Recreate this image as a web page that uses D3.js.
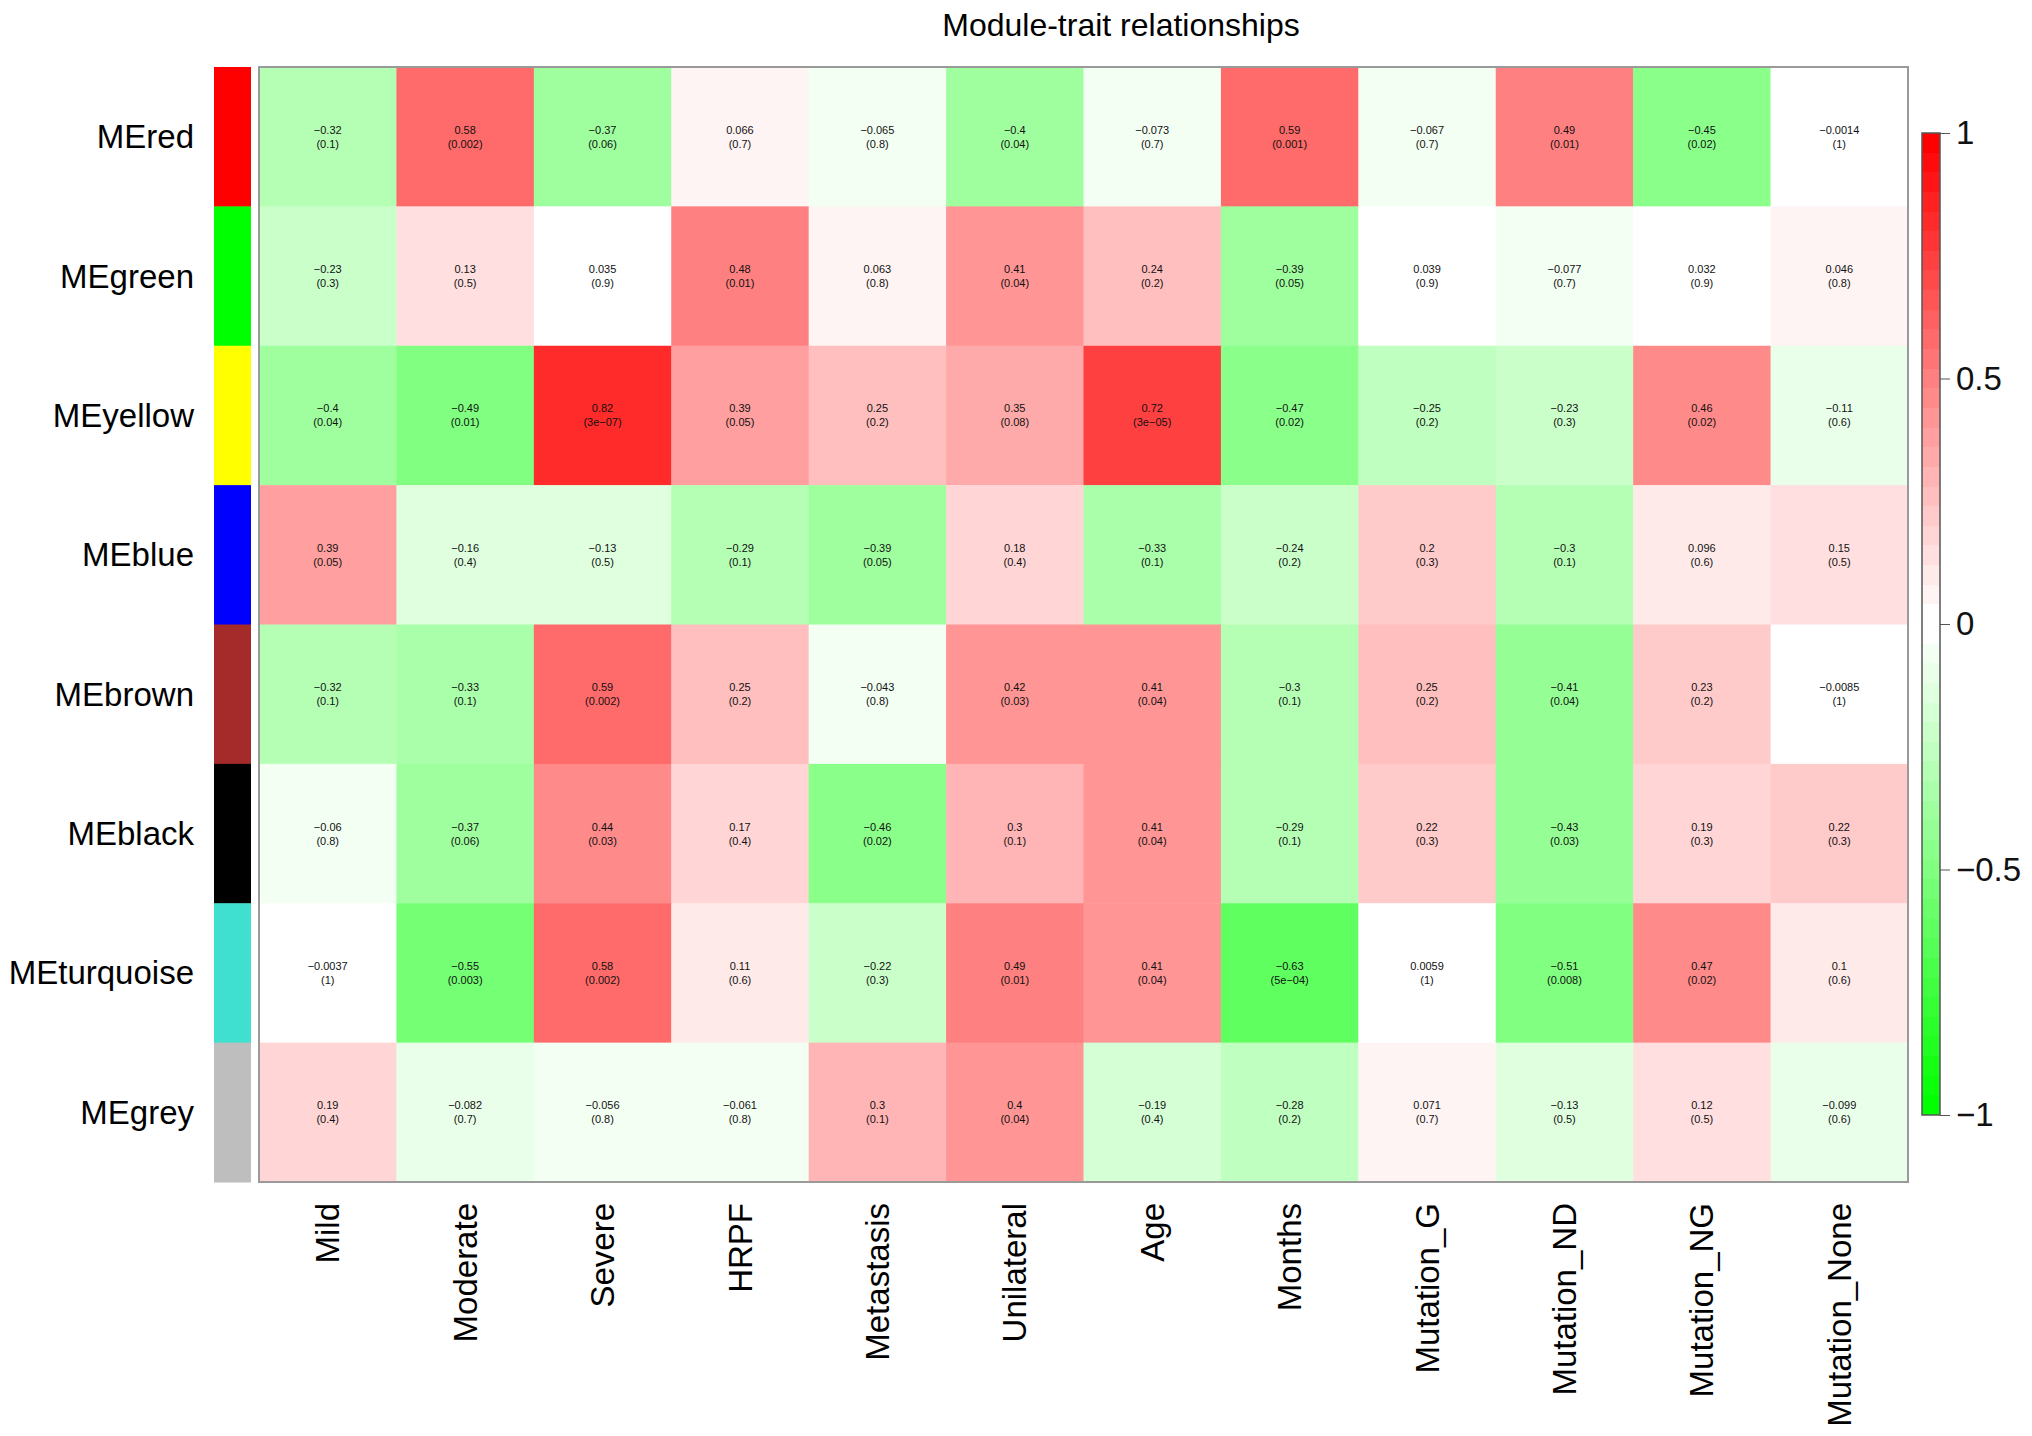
<!DOCTYPE html>
<html>
<head>
<meta charset="utf-8">
<script src="https://d3js.org/d3.v7.min.js"></script>
<style>
  body { margin: 0; background: #fff; }
  svg text { font-family: "Liberation Sans", Arial, Helvetica, sans-serif; }
</style>
</head>
<body>
<div class="d3"></div>
<script>
'use strict';

// modules (rows) and traits (columns)
const modules = ["MEred", "MEgreen", "MEyellow", "MEblue", "MEbrown", "MEblack", "MEturquoise", "MEgrey"];
const moduleColors = ["#FF0000", "#00FF00", "#FFFF00", "#0000FF", "#A52A2A", "#000000", "#40E0D0", "#BEBEBE"];
const traits = ["Mild", "Moderate", "Severe", "HRPF", "Metastasis", "Unilateral", "Age", "Months",
                "Mutation_G", "Mutation_ND", "Mutation_NG", "Mutation_None"];

// correlation per module, one array per row
const corRed       = [-0.32, 0.58, -0.37, 0.066, -0.065, -0.4, -0.073, 0.59, -0.067, 0.49, -0.45, -0.0014];
const corGreen     = [-0.23, 0.13, 0.035, 0.48, 0.063, 0.41, 0.24, -0.39, 0.039, -0.077, 0.032, 0.046];
const corYellow    = [-0.4, -0.49, 0.82, 0.39, 0.25, 0.35, 0.72, -0.47, -0.25, -0.23, 0.46, -0.11];
const corBlue      = [0.39, -0.16, -0.13, -0.29, -0.39, 0.18, -0.33, -0.24, 0.2, -0.3, 0.096, 0.15];
const corBrown     = [-0.32, -0.33, 0.59, 0.25, -0.043, 0.42, 0.41, -0.3, 0.25, -0.41, 0.23, -0.0085];
const corBlack     = [-0.06, -0.37, 0.44, 0.17, -0.46, 0.3, 0.41, -0.29, 0.22, -0.43, 0.19, 0.22];
const corTurquoise = [-0.0037, -0.55, 0.58, 0.11, -0.22, 0.49, 0.41, -0.63, 0.0059, -0.51, 0.47, 0.1];
const corGrey      = [0.19, -0.082, -0.056, -0.061, 0.3, 0.4, -0.19, -0.28, 0.071, -0.13, 0.12, -0.099];

// p values, kept as the printed strings
const pRed       = ["0.1", "0.002", "0.06", "0.7", "0.8", "0.04", "0.7", "0.001", "0.7", "0.01", "0.02", "1"];
const pGreen     = ["0.3", "0.5", "0.9", "0.01", "0.8", "0.04", "0.2", "0.05", "0.9", "0.7", "0.9", "0.8"];
const pYellow    = ["0.04", "0.01", "3e-07", "0.05", "0.2", "0.08", "3e-05", "0.02", "0.2", "0.3", "0.02", "0.6"];
const pBlue      = ["0.05", "0.4", "0.5", "0.1", "0.05", "0.4", "0.1", "0.2", "0.3", "0.1", "0.6", "0.5"];
const pBrown     = ["0.1", "0.1", "0.002", "0.2", "0.8", "0.03", "0.04", "0.1", "0.2", "0.04", "0.2", "1"];
const pBlack     = ["0.8", "0.06", "0.03", "0.4", "0.02", "0.1", "0.04", "0.1", "0.3", "0.03", "0.3", "0.3"];
const pTurquoise = ["1", "0.003", "0.002", "0.6", "0.3", "0.01", "0.04", "5e-04", "1", "0.008", "0.02", "0.6"];
const pGrey      = ["0.4", "0.7", "0.8", "0.8", "0.1", "0.04", "0.4", "0.2", "0.7", "0.5", "0.5", "0.6"];

const legendTicks = [-1, -0.5, 0, 0.5, 1];

const corRows = [corRed, corGreen, corYellow, corBlue, corBrown, corBlack, corTurquoise, corGrey];
const pRows = [pRed, pGreen, pYellow, pBlue, pBrown, pBlack, pTurquoise, pGrey];

const minus = (s) => String(s).replace(/-/g, "\u2212");

// 50 step green-white-red palette (two white steps in the middle, like WGCNA)
function greenWhiteRed(n) {
  const half = n / 2;
  const out = [];
  for (let i = 0; i < half; i++) {
    const t = Math.round(255 * i / (half - 1));
    out.push(d3.rgb(t, 255, t).formatHex());
  }
  for (let i = 0; i < half; i++) {
    const t = Math.round(255 * (1 - i / (half - 1)));
    out.push(d3.rgb(255, t, t).formatHex());
  }
  return out;
}

function drawHeatmap() {
  const width = 2032, height = 1436;
  const box = {left: 259, right: 1908, top: 67, bottom: 1182};

  // flatten into cells
  const cells = [];
  modules.forEach((m, i) => {
    traits.forEach((t, j) => {
      cells.push({module: m, trait: t, cor: corRows[i][j], p: pRows[i][j]});
    });
  });

  const x_scale = d3.scaleBand().domain(traits).range([box.left, box.right]);
  const y_scale = d3.scaleBand().domain(modules).range([box.top, box.bottom]);
  const color = d3.scaleQuantize().domain([-1, 1]).range(greenWhiteRed(50));

  const svg = d3.select('.d3').append('svg')
    .attr('width', width)
    .attr('height', height);

  svg.append('text')
    .attr('x', 1121)
    .attr('y', 36)
    .attr('text-anchor', 'middle')
    .attr('font-size', 32)
    .text('Module-trait relationships');

  // cells
  svg.selectAll('.cell')
    .data(cells)
    .enter()
    .append('rect')
    .attr('class', 'cell')
    .attr('x', (d) => x_scale(d.trait))
    .attr('y', (d) => y_scale(d.module))
    .attr('width', x_scale.bandwidth() + 0.5)
    .attr('height', y_scale.bandwidth() + 0.5)
    .attr('fill', (d) => color(d.cor));

  // cell labels: correlation and (p)
  const labels = svg.selectAll('.lab')
    .data(cells)
    .enter()
    .append('text')
    .attr('class', 'lab')
    .attr('text-anchor', 'middle')
    .attr('font-size', 11)
    .attr('fill', '#111');
  labels.append('tspan')
    .attr('x', (d) => x_scale(d.trait) + x_scale.bandwidth() / 2)
    .attr('y', (d) => y_scale(d.module) + y_scale.bandwidth() / 2 - 3)
    .text((d) => minus(d.cor));
  labels.append('tspan')
    .attr('x', (d) => x_scale(d.trait) + x_scale.bandwidth() / 2)
    .attr('y', (d) => y_scale(d.module) + y_scale.bandwidth() / 2 + 11)
    .text((d) => '(' + minus(d.p) + ')');

  // frame round the heatmap
  svg.append('rect')
    .attr('x', box.left)
    .attr('y', box.top)
    .attr('width', box.right - box.left)
    .attr('height', box.bottom - box.top)
    .attr('fill', 'none')
    .attr('stroke', '#9a9a9a')
    .attr('stroke-width', 2);

  // module colour strip on the left
  svg.selectAll('.side')
    .data(modules)
    .enter()
    .append('rect')
    .attr('class', 'side')
    .attr('x', 214)
    .attr('y', (d) => y_scale(d))
    .attr('width', 37)
    .attr('height', y_scale.bandwidth() + 0.5)
    .attr('fill', (d, i) => moduleColors[i]);

  // row labels
  svg.selectAll('.rowlab')
    .data(modules)
    .enter()
    .append('text')
    .attr('class', 'rowlab')
    .attr('x', 194)
    .attr('y', (d) => y_scale(d) + y_scale.bandwidth() / 2)
    .attr('dy', '0.35em')
    .attr('text-anchor', 'end')
    .attr('font-size', 33)
    .text((d) => d);

  // column labels, rotated, ending at the top
  svg.selectAll('.collab')
    .data(traits)
    .enter()
    .append('text')
    .attr('class', 'collab')
    .attr('transform', (d) => 'translate(' + (x_scale(d) + x_scale.bandwidth() / 2) + ',1203) rotate(-90)')
    .attr('dy', '0.35em')
    .attr('text-anchor', 'end')
    .attr('font-size', 33)
    .text((d) => d);

  // colour key
  const key = {x: 1922, w: 18, top: 133, bottom: 1115};
  const key_scale = d3.scaleLinear().domain([-1, 1]).range([key.bottom, key.top]);
  const defs = svg.append('defs');
  const grad = defs.append('linearGradient')
    .attr('id', 'keygrad')
    .attr('x1', 0).attr('y1', 1).attr('x2', 0).attr('y2', 0);
  const pal = color.range();
  pal.forEach((c, i) => {
    grad.append('stop').attr('offset', (i / pal.length * 100) + '%').attr('stop-color', c);
    grad.append('stop').attr('offset', ((i + 1) / pal.length * 100) + '%').attr('stop-color', c);
  });
  svg.append('rect')
    .attr('x', key.x)
    .attr('y', key.top)
    .attr('width', key.w)
    .attr('height', key.bottom - key.top)
    .attr('fill', 'url(#keygrad)')
    .attr('stroke', '#555')
    .attr('stroke-width', 1.5);

  const keyAxis = svg.append('g')
    .attr('transform', 'translate(' + (key.x + key.w) + ',0)')
    .call(d3.axisRight(key_scale).tickValues(legendTicks).tickSize(10).tickPadding(6)
      .tickFormat((d) => minus(d)));
  keyAxis.select('.domain').remove();
  keyAxis.selectAll('text')
    .attr('font-size', 33)
    .attr('font-family', '"Liberation Sans", Arial, sans-serif')
    .attr('fill', '#111');
  keyAxis.selectAll('line').attr('stroke', '#555');
}

drawHeatmap();
</script>
</body>
</html>
